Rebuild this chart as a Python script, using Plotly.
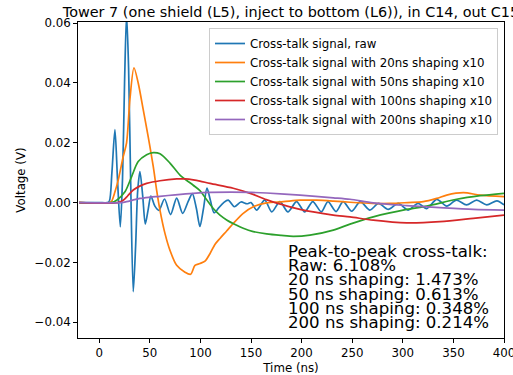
import plotly.graph_objects as go

# ---------------- data ----------------
raw_t = [-20, 0, 8, 10, 12.5, 15.5, 18, 20.8, 23, 25, 27, 29, 31, 33.6, 36, 38, 40.2,
         43, 45.5, 48.5, 51, 55, 59, 64.5, 70.5, 76.5, 82.5, 88, 92, 96, 99.5, 103,
         106.5, 110, 113.5, 118, 123, 127.5, 133.5, 140, 146, 150, 155.5, 163.5,
         170.5, 178.5, 186.5, 195, 203, 211, 219.5, 226, 234, 241, 249.5, 258,
         267.5, 276, 285.6, 295.5, 305.4, 315, 323.6, 333.5, 343.4, 353, 363, 373,
         383, 393, 400]
raw_v = [0, 0, 0, 0.0005, 0.010, 0.0244, 0.008, -0.0081, 0.008, 0.040, 0.063, 0.045,
         0.008, -0.0298, -0.014, 0.004, 0.0104, 0.002, -0.0072, -0.002, 0.0022,
         -0.0012, -0.0026, 0.0012, -0.0040, 0.0015, -0.0036, 0.0005, 0.0030, -0.002,
         -0.0080, -0.002, 0.0048, 0.0005, -0.0034, -0.0018, 0.0000, 0.0008, -0.0014,
         0.0002, -0.0004, 0.0, -0.0025, 0.0008, -0.0031, 0.0003, -0.0031, 0.0003,
         -0.0031, 0.0003, -0.0031, 0.0003, -0.0030, 0.0003, -0.0029, 0.0003,
         -0.0025, -0.0003, -0.0023, -0.0003, -0.0025, -0.0003, -0.0020, 0.0011,
         -0.0012, 0.0008, -0.0008, 0.0008, -0.0008, 0.0006, -0.0008]

s20_t = [-20, 10, 12, 15, 18.8, 23.7, 27, 30.3, 34.3, 38.5, 43.5, 48.4, 53.4, 56.7, 60,
         65, 69.9, 76.5, 84.7, 90.3, 94.6, 99.5, 104.5, 109.4, 114.3, 119.3, 125.9,
         132.4, 142.3, 152.2, 165.4, 181.9, 198.4, 214.8, 231.3, 247.8, 270, 287.3,
         305, 320.2, 333.5, 343.4, 359.8, 376.3, 400]
s20_v = [0, 0, 0.0003, 0.003, 0.0076, 0.0154, 0.020, 0.0345, 0.0451, 0.040, 0.031,
         0.022, 0.012, 0.0042, -0.0025, -0.0104, -0.016, -0.021, -0.0233, -0.0240,
         -0.021, -0.0204, -0.0196, -0.0171, -0.0140, -0.0120, -0.0095, -0.0070,
         -0.0036, -0.0014, -0.0001, 0.0003, 0.0008, 0.0008, 0.0005, 0.0001, -0.0003,
         -0.0003, 0.0, 0.0003, 0.0014, 0.0025, 0.0033, 0.0025, 0.0020]

s50_t = [-20, 12, 17.2, 25.4, 32, 38.5, 46.8, 53.4, 60, 69.9, 79.8, 92.9, 99.5, 106,
         112.7, 119.3, 125.9, 135.8, 142.3, 152.2, 165.4, 180, 191.7, 208.2, 231.3,
         247.8, 270.8, 303.8, 323.6, 353.2, 376.3, 400]
s50_v = [0, 0, 0.0008, 0.0036, 0.0087, 0.0137, 0.016, 0.0167, 0.0163, 0.0132, 0.0092,
         0.0058, 0.0040, 0.0010, -0.0020, -0.0042, -0.0058, -0.0076, -0.0086,
         -0.0097, -0.0105, -0.0110, -0.0113, -0.0109, -0.0092, -0.0072, -0.0048,
         -0.0023, -0.0012, 0.0011, 0.0023, 0.0031]

s100_t = [-20, 18, 23.7, 28, 33.6, 40, 46.8, 60, 76.5, 85, 92.9, 99.5, 109.4, 132.4,
          150, 165, 180, 198.4, 231.3, 247.8, 270.8, 303.8, 336.7, 369.6, 400]
s100_v = [0, 0, 0.0008, 0.0022, 0.0042, 0.0055, 0.0064, 0.0073, 0.0079, 0.0079,
          0.0076, 0.0072, 0.0064, 0.0048, 0.0030, 0.0010, -0.0006, -0.0023, -0.0042,
          -0.0048, -0.0059, -0.0068, -0.0064, -0.0053, -0.0042]

s200_t = [-20, 22, 27, 33, 40.2, 50, 60, 75, 92.9, 110, 130, 150, 165.4, 198.4, 231.3,
          247.8, 270.8, 303.8, 336.7, 369.6, 400]
s200_v = [0, 0, 0.0003, 0.0008, 0.0014, 0.0018, 0.0021, 0.0026, 0.0031, 0.0034,
          0.0035, 0.0034, 0.0032, 0.0025, 0.0016, 0.0011, -0.0001, -0.0010, -0.0017,
          -0.0023, -0.0025]

series_names = ["Cross-talk signal, raw",
                "Cross-talk signal with 20ns shaping x10",
                "Cross-talk signal with 50ns shaping x10",
                "Cross-talk signal with 100ns shaping x10",
                "Cross-talk signal with 200ns shaping x10"]
series_t = [raw_t, s20_t, s50_t, s100_t, s200_t]
series_v = [raw_v, s20_v, s50_v, s100_v, s200_v]
colors = ["#1f77b4", "#ff7f0e", "#2ca02c", "#d62728", "#9467bd"]

title_text = "Tower 7 (one shield (L5), inject to bottom (L6)), in C14, out C15"
box_lines = ["Peak-to-peak cross-talk:",
             "Raw: 6.108%",
             "20 ns shaping: 1.473%",
             "50 ns shaping: 0.613%",
             "100 ns shaping: 0.348%",
             "200 ns shaping: 0.214%"]

x_ticks = [0, 50, 100, 150, 200, 250, 300, 350, 400]
y_ticks = [-0.04, -0.02, 0.00, 0.02, 0.04, 0.06]

# ---------------- figure ----------------
W, H = 513, 375
ML, MR, MT, MB = 78, 9, 22, 37
FONT = "DejaVu Sans"

fig = go.Figure()
for name, t, v, c in zip(series_names, series_t, series_v, colors):
    fig.add_trace(go.Scatter(x=t, y=v, mode="lines", name=name,
                             line=dict(color=c, width=1.7, shape="spline", smoothing=0.8)))

axis_common = dict(showgrid=False, zeroline=False, showline=True, linecolor="black",
                   linewidth=0.95, mirror=True, ticks="outside", ticklen=4, tickwidth=0.95,
                   tickcolor="black", ticklabeloverflow="allow", automargin=False,
                   tickfont=dict(family=FONT, size=11.8, color="black"))

fig.update_xaxes(range=[-21, 400], tickvals=x_ticks, ticktext=[str(v) for v in x_ticks],
                 ticklabelstandoff=0,
                 title=dict(text="Time (ns)", font=dict(family=FONT, size=11.8, color="black"),
                            standoff=5),
                 **axis_common)
fig.update_yaxes(range=[-0.0453, 0.0604], tickvals=y_ticks, tickformat=".2f",
                 title=dict(text="Voltage (V)", font=dict(family=FONT, size=11.8, color="black"),
                            standoff=6),
                 **axis_common)

ph = H - MT - MB
pw = W - ML - MR


def py(ypix):
    return 1 - (ypix - MT) / ph


def px(xpix):
    return (xpix - ML) / pw


box_centers = [251.5, 265.7, 279.9, 294.1, 308.3, 322.5]
for line, yc in zip(box_lines, box_centers):
    fig.add_annotation(text=line, xref="paper", yref="paper", x=px(286), y=py(yc),
                       xanchor="left", yanchor="middle", showarrow=False,
                       font=dict(family=FONT, size=16.6, color="black"))

fig.update_layout(
    width=W, height=H,
    margin=dict(l=ML, r=MR, t=MT, b=MB, pad=0, autoexpand=False),
    paper_bgcolor="white", plot_bgcolor="white",
    title=dict(text=title_text, xref="paper", x=0.5, xanchor="center",
               yref="container", y=1 - 12.0 / H, yanchor="middle", automargin=False,
               font=dict(family=FONT, size=14.4, color="black")),
    legend=dict(x=px(498), y=py(28), xanchor="right", yanchor="top",
                bgcolor="rgba(255,255,255,0.8)", bordercolor="#cccccc", borderwidth=1,
                font=dict(family=FONT, size=11.8, color="black"),
                tracegroupgap=0),
    showlegend=True,
)

fig.write_html("out.html")
